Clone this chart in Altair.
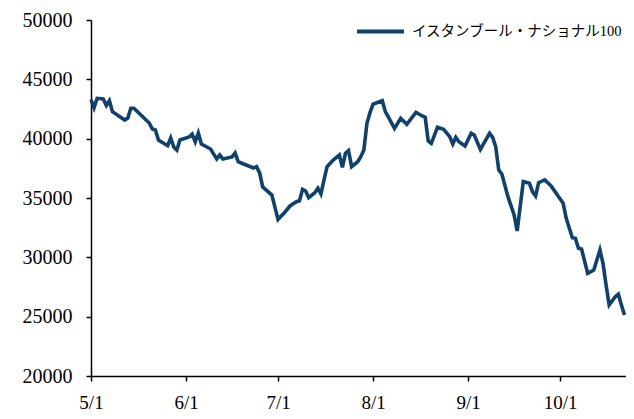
import altair as alt
import pandas as pd

series_name = "イスタンブール・ナショナル100"
line_color = "#10416b"

dates = [
    "2008-05-01", "2008-05-02", "2008-05-03", "2008-05-05", "2008-05-06", "2008-05-07",
    "2008-05-08", "2008-05-12", "2008-05-13", "2008-05-14", "2008-05-15", "2008-05-20",
    "2008-05-21", "2008-05-22", "2008-05-23", "2008-05-26", "2008-05-27", "2008-05-28",
    "2008-05-29", "2008-05-30", "2008-06-02", "2008-06-03", "2008-06-04", "2008-06-05",
    "2008-06-06", "2008-06-09", "2008-06-11", "2008-06-12", "2008-06-13", "2008-06-16",
    "2008-06-17", "2008-06-18", "2008-06-19", "2008-06-23", "2008-06-24", "2008-06-25",
    "2008-06-26", "2008-06-29", "2008-07-01", "2008-07-03", "2008-07-05", "2008-07-07",
    "2008-07-08", "2008-07-09", "2008-07-10", "2008-07-11", "2008-07-13", "2008-07-14",
    "2008-07-15", "2008-07-16", "2008-07-17", "2008-07-19", "2008-07-21", "2008-07-22",
    "2008-07-23", "2008-07-24", "2008-07-25", "2008-07-27", "2008-07-28", "2008-07-29",
    "2008-07-30", "2008-07-31", "2008-08-01", "2008-08-04", "2008-08-05", "2008-08-06",
    "2008-08-08", "2008-08-10", "2008-08-12", "2008-08-15", "2008-08-17", "2008-08-18",
    "2008-08-19", "2008-08-20", "2008-08-22", "2008-08-24", "2008-08-26", "2008-08-27",
    "2008-08-28", "2008-08-29", "2008-08-31", "2008-09-02", "2008-09-03", "2008-09-05",
    "2008-09-08", "2008-09-09", "2008-09-10", "2008-09-11", "2008-09-12", "2008-09-14",
    "2008-09-16", "2008-09-17", "2008-09-19", "2008-09-21", "2008-09-22", "2008-09-23",
    "2008-09-24", "2008-09-26", "2008-09-28", "2008-10-02", "2008-10-03", "2008-10-05",
    "2008-10-06", "2008-10-07", "2008-10-08", "2008-10-10", "2008-10-12", "2008-10-14",
    "2008-10-15", "2008-10-16", "2008-10-17", "2008-10-19", "2008-10-20", "2008-10-21",
    "2008-10-22",
]

values = [
    43300, 42600, 43400, 43350, 42800, 43200,
    42270, 41570, 41740, 42560, 42560, 41320,
    40810, 40730, 39890, 39410, 40060, 39300,
    39040, 39890, 40140, 40390, 39740, 40480,
    39550, 39130, 38290, 38620, 38290, 38460,
    38790, 38060, 37950, 37530, 37640, 37110,
    35930, 35250, 33200, 33740, 34350, 34690,
    34770, 35730, 35590, 35030, 35450, 35820,
    35340, 36520, 37640, 38200, 38620, 37590,
    38770, 38990, 37640, 38060, 38480, 39040,
    41290, 42190, 42900, 43200, 42280, 41810,
    40870, 41720, 41210, 42220, 41910, 41800,
    39800, 39610, 40960, 40790, 40170, 39550,
    40110, 39740, 39380, 40450, 40310, 39100,
    40450, 40110, 39320, 37360, 37020, 35110,
    33570, 32220, 36380, 36240, 35530, 35170,
    36290, 36520, 36040, 34550, 33290, 31650,
    31600, 30760, 30700, 28650, 28930, 30620,
    29500, 27670, 25980, 26680, 26890, 25980,
    25140,
]

x_tick_months = [5, 6, 7, 8, 9, 10]
y_ticks = [20000, 25000, 30000, 35000, 40000, 45000, 50000]

df = pd.DataFrame({
    "date": [d + "T00:00:00" for d in dates],
    "value": values,
    "series": series_name,
})

font = "Liberation Serif"

chart = alt.Chart(df).mark_line(strokeWidth=3.6).encode(
    x=alt.X(
        "date:T",
        scale=alt.Scale(domain=[alt.DateTime(year=2008, month=5, date=1),
                                alt.DateTime(year=2008, month=10, date=22, hours=12)]),
        axis=alt.Axis(
            values=[alt.DateTime(year=2008, month=m, date=1) for m in x_tick_months],
            format="%-m/%-d", title=None, grid=False, tickSize=5, labelPadding=12,
            labelFontSize=19, labelFlush=False, labelAlign="center",
        ),
    ),
    y=alt.Y(
        "value:Q",
        scale=alt.Scale(domain=[20000, 50000], nice=False, zero=False),
        axis=alt.Axis(values=y_ticks, format="d", title=None, grid=False,
                      tickSize=5, labelPadding=14),
    ),
    color=alt.Color(
        "series:N",
        scale=alt.Scale(domain=[series_name], range=[line_color]),
        legend=alt.Legend(
            title=None, orient="none", legendX=264, legendY=-14,
            symbolType="stroke", symbolSize=2200, symbolStrokeWidth=4,
            labelFont=font + ", Noto Sans CJK JP", labelFontSize=14.5,
            labelColor="black", labelLimit=0, labelOffset=6, padding=0,
        ),
    ),
).properties(
    width=535, height=356,
    padding={"left": 83, "top": 12, "right": 0, "bottom": 35},
    autosize=alt.AutoSizeParams(type="none"),
).configure_view(stroke=None).configure_axis(
    labelFont=font, labelFontSize=20, labelColor="black",
    domainColor="black", tickColor="black", domainWidth=1.5, tickWidth=1.5,
)

chart.save("out.html", embed_options={"renderer": "svg", "actions": False})
